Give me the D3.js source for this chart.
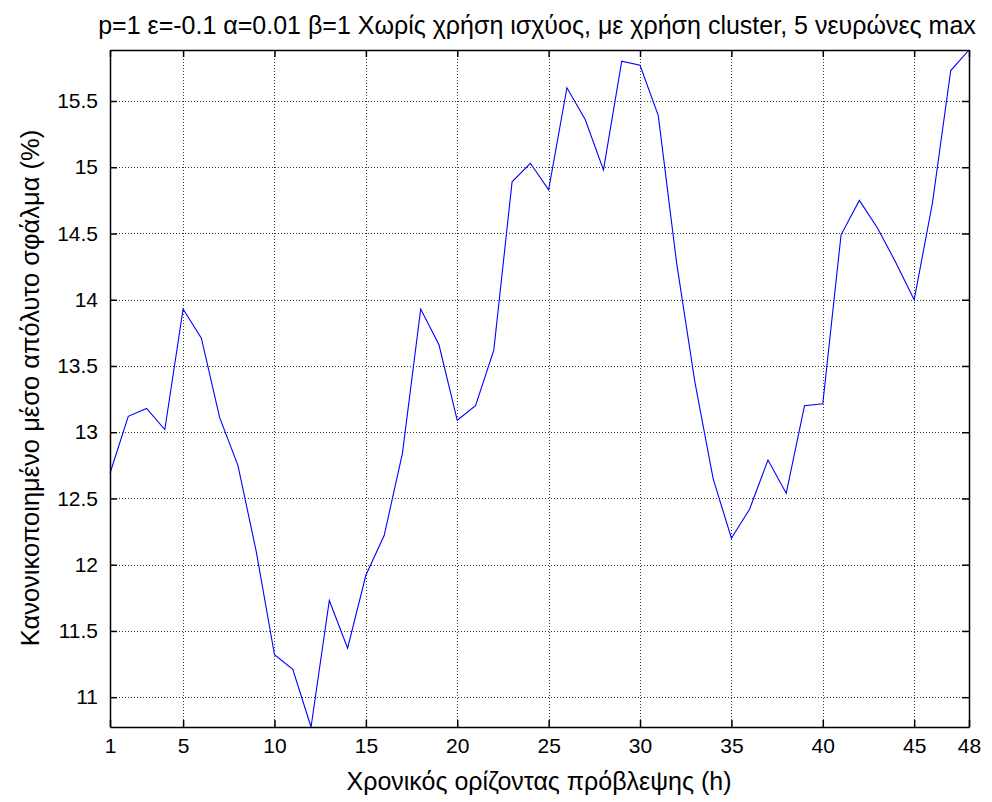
<!DOCTYPE html>
<html>
<head>
<meta charset="utf-8">
<script src="https://cdn.jsdelivr.net/npm/d3@7/dist/d3.min.js"></script>
<style>
  html, body { margin: 0; padding: 0; background: #fff; }
  svg { display: block; }
  text { font-family: "Liberation Sans", Arial, sans-serif; fill: #000; }
</style>
</head>
<body>
<svg id="chart" width="992" height="802"></svg>
<script>
const title = "p=1 ε=-0.1 α=0.01 β=1 Χωρίς χρήση ισχύος, με χρήση cluster, 5 νευρώνες max";
const xLabel = "Χρονικός ορίζοντας πρόβλεψης (h)";
const yLabel = "Κανονικοποιημένο μέσο απόλυτο σφάλμα (%)";

const hours = d3.range(1, 49);
const errors = [
  12.69, 13.12, 13.18, 13.02, 13.93, 13.71, 13.11, 12.75, 12.10, 11.32,
  11.21, 10.775, 11.73, 11.37, 11.92, 12.22, 12.84, 13.93, 13.66, 13.09,
  13.20, 13.62, 14.89, 15.03, 14.83, 15.60, 15.36, 14.98, 15.80, 15.77,
  15.39, 14.28, 13.38, 12.65, 12.20, 12.42, 12.79, 12.54, 13.20, 13.215,
  14.49, 14.75, 14.54, 14.28, 14.00, 14.73, 15.73, 15.885
];
const xTicks = [1, 5, 10, 15, 20, 25, 30, 35, 40, 45, 48];
const yTicks = [11, 11.5, 12, 12.5, 13, 13.5, 14, 14.5, 15, 15.5];

const svg = d3.select("#chart");
const L = 110, R = 969, T = 50, B = 727;

const x = d3.scaleLinear().domain([1, 48]).range([L, R]);
const y = d3.scaleLinear().domain([d3.min(errors), d3.max(errors)]).range([B, T]);

svg.append("rect").attr("x", L).attr("y", T).attr("width", R - L).attr("height", B - T).attr("fill", "#fff");

// grid
const grid = svg.append("g");
grid.selectAll("line.vx").data(xTicks).enter().append("line")
  .attr("x1", d => Math.round(x(d)) + 0.5).attr("x2", d => Math.round(x(d)) + 0.5)
  .attr("y1", T).attr("y2", B)
  .attr("stroke", "#333").attr("stroke-width", 1).attr("stroke-dasharray", "1,2");
grid.selectAll("line.hy").data(yTicks).enter().append("line")
  .attr("y1", d => Math.round(y(d)) + 0.5).attr("y2", d => Math.round(y(d)) + 0.5)
  .attr("x1", L).attr("x2", R)
  .attr("stroke", "#333").attr("stroke-width", 1).attr("stroke-dasharray", "1,2");

// data line
const line = d3.line().x((d, i) => x(hours[i])).y(d => y(d));
svg.append("path").datum(errors)
  .attr("d", line).attr("fill", "none").attr("stroke", "#0000ff").attr("stroke-width", 1.1);

// axes (ticks inside)
const tl = 7;
const gB = svg.append("g").attr("transform", `translate(0,${B})`)
  .call(d3.axisBottom(x).tickValues(xTicks).tickSizeInner(-tl).tickSizeOuter(0).tickPadding(11));
const gT = svg.append("g").attr("transform", `translate(0,${T})`)
  .call(d3.axisTop(x).tickValues(xTicks).tickSizeInner(-tl).tickSizeOuter(0).tickFormat(""));
const gL = svg.append("g").attr("transform", `translate(${L},0)`)
  .call(d3.axisLeft(y).tickValues(yTicks).tickSizeInner(-tl).tickSizeOuter(0).tickPadding(12).tickFormat(d3.format("")));
const gR = svg.append("g").attr("transform", `translate(${R},0)`)
  .call(d3.axisRight(y).tickValues(yTicks).tickSizeInner(-tl).tickSizeOuter(0).tickFormat(""));

[gB, gT, gL, gR].forEach(g => {
  g.select(".domain").attr("stroke", "#000").attr("stroke-width", 1.5);
  g.selectAll(".tick line").attr("stroke", "#000").attr("stroke-width", 1.5);
  g.selectAll(".tick text").attr("font-size", 21).attr("fill", "#000")
    .attr("font-family", '"Liberation Sans", Arial, sans-serif');
});

// labels
svg.append("text").attr("x", 537).attr("y", 34).attr("text-anchor", "middle")
  .attr("font-size", 25).text(title);
svg.append("text").attr("x", 539).attr("y", 790).attr("text-anchor", "middle")
  .attr("font-size", 25).text(xLabel);
svg.append("text").attr("transform", `translate(39,${388}) rotate(-90)`)
  .attr("text-anchor", "middle").attr("font-size", 25.5).text(yLabel);
</script>
</body>
</html>
